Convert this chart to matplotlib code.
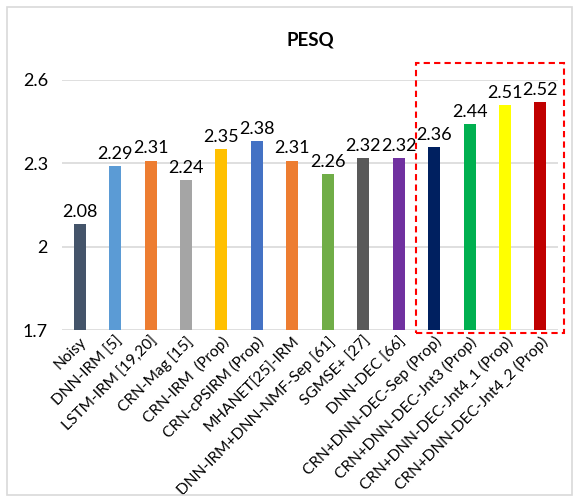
import matplotlib.pyplot as plt
from matplotlib.patches import Rectangle

# PESQ scores per method
methods = ['Noisy', 'DNN-IRM [5]', 'LSTM-IRM [19,20]', 'CRN-Mag [15]', 'CRN-IRM  (Prop)',
           'CRN-cPSIRM (Prop)', 'MHANET[25]-IRM', 'DNN-IRM+DNN-NMF-Sep [61]', 'SGMSE+ [27]',
           'DNN-DEC [66]', 'CRN+DNN-DEC-Sep (Prop)', 'CRN+DNN-DEC-Jnt3 (Prop)',
           'CRN+DNN-DEC-Jnt4_1 (Prop)', 'CRN+DNN-DEC-Jnt4_2 (Prop)']
pesq = [2.08, 2.29, 2.31, 2.24, 2.35, 2.38, 2.31, 2.26, 2.32, 2.32, 2.36, 2.44, 2.51, 2.52]
colors = ['#44546A', '#5B9BD5', '#ED7D31', '#A5A5A5', '#FFC000', '#4472C4', '#ED7D31',
          '#70AD47', '#595959', '#7030A0', '#002060', '#00B050', '#FFFF00', '#C00000']
yticks = [1.7, 2, 2.3, 2.6]

plt.rcParams['font.family'] = ['Lato', 'DejaVu Sans']

fig = plt.figure(figsize=(5.79, 5.0), dpi=100)
ax = fig.add_axes([0.107, 0.34, 0.857, 0.50])

x = range(len(methods))
ax.bar(x, pesq, width=0.34, color=colors, zorder=3)
for i, v in enumerate(pesq):
    ax.text(i, v + 0.015, f'{v:.2f}', ha='center', va='bottom', fontsize=13)

ax.set_ylim(1.7, 2.6)
ax.set_xlim(-0.5, len(methods) - 0.5)
ax.set_yticks(yticks)
ax.set_yticklabels([str(t) for t in yticks], fontsize=13)
ax.set_xticks(list(x))
ax.set_xticklabels(methods, rotation=45, ha='right', rotation_mode='anchor', fontsize=11.2)
ax.tick_params(length=0, pad=10)
ax.tick_params(axis='x', pad=3)
ax.yaxis.grid(True, color='#D9D9D9', linewidth=1.2, zorder=0)
for s in ax.spines.values():
    s.set_visible(False)
ax.set_title('PESQ', fontweight='bold', fontsize=13.5, pad=25)

# highlight the proposed joint systems
box = Rectangle((9.49, 1.689), 4.18, 0.972, fill=False, edgecolor='#FF0000',
                linestyle=(0, (3, 2)), linewidth=1.5, clip_on=False, zorder=4)
ax.add_patch(box)

# chart frame
fig.patches.append(Rectangle((7 / 579, 5 / 500), 565 / 579, 488 / 500, fill=False,
                             edgecolor='#D9D9D9', linewidth=1.2, transform=fig.transFigure))

fig.savefig('out.png', dpi=100)
